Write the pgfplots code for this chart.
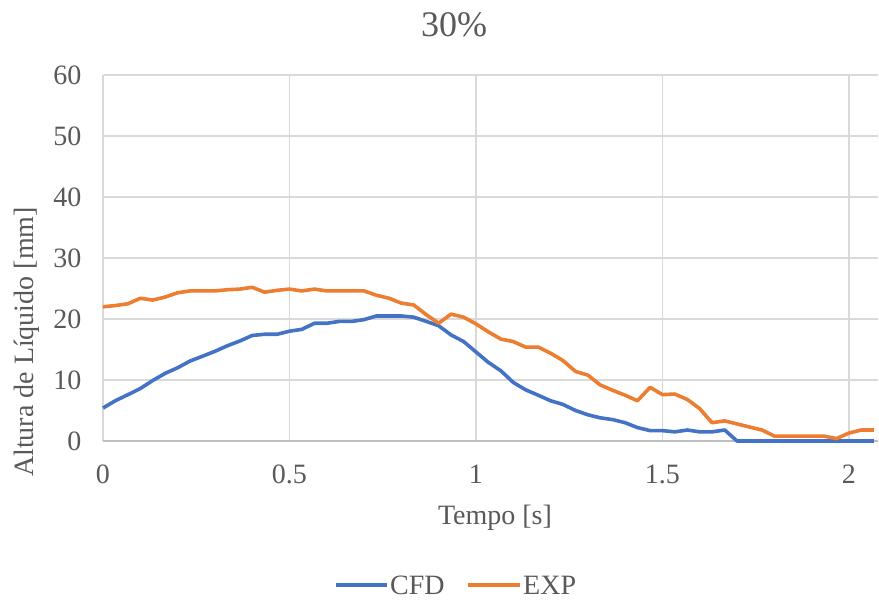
\documentclass[border=0pt]{standalone}
\usepackage{pgfplots}
\pgfplotsset{compat=1.18}
\usepackage{fontspec}
\setmainfont{Liberation Serif}
\definecolor{cfd}{HTML}{4472C4}
\definecolor{exp}{HTML}{ED7D31}
\definecolor{txt}{HTML}{595959}
\definecolor{grd}{HTML}{D9D9D9}
\definecolor{axl}{HTML}{BFBFBF}
\begin{document}
\begin{tikzpicture}[x=1pt,y=1pt]
\useasboundingbox (0,0) rectangle (879,600);
\begin{axis}[
  at={(103pt,159pt)}, anchor=south west,
  scale only axis, width=775pt, height=366pt,
  xmin=0, xmax=2.078, ymin=0, ymax=60,
  xtick={0,0.5,1,1.5,2}, ytick={0,10,...,60},
  xticklabels={0,0.5,1,1.5,2},
  grid=major, major grid style={color=grd, line width=1.3pt},
  major tick length=0pt,
  axis x line*=bottom, axis y line*=left,
  x axis line style={-, color=axl, line width=1.5pt},
  y axis line style={draw=none},
  /pgf/number format/assume math mode=true,
  tick label style={font=\fontsize{28}{32}\selectfont, color=txt},
  xticklabel style={yshift=-20pt},
  yticklabel style={xshift=-18pt},
  clip=false,
]
\addplot[cfd, line width=3.6pt, line join=round] coordinates {
(0,5.4) (0.033,6.6) (0.067,7.6) (0.1,8.6) (0.133,9.9) (0.167,11.1)
(0.2,12.0) (0.233,13.1) (0.267,13.9) (0.3,14.7) (0.333,15.6) (0.367,16.4)
(0.4,17.3) (0.433,17.5) (0.467,17.5) (0.5,18.0) (0.533,18.3) (0.567,19.3)
(0.6,19.3) (0.633,19.6) (0.667,19.6) (0.7,19.9) (0.733,20.5) (0.767,20.5)
(0.8,20.5) (0.833,20.3) (0.867,19.6) (0.9,18.9) (0.933,17.4) (0.967,16.3)
(1.0,14.6) (1.033,12.9) (1.067,11.5) (1.1,9.6) (1.133,8.4) (1.167,7.5)
(1.2,6.6) (1.233,6.0) (1.267,5.0) (1.3,4.3) (1.333,3.8) (1.367,3.5)
(1.4,3.0) (1.433,2.2) (1.467,1.7) (1.5,1.7) (1.533,1.5) (1.567,1.8)
(1.6,1.5) (1.633,1.5) (1.667,1.8) (1.7,0) (1.733,0) (1.767,0) (1.8,0)
(1.833,0) (1.867,0) (1.9,0) (1.933,0) (1.967,0) (2.0,0) (2.033,0) (2.067,0)
};
\addplot[exp, line width=3.6pt, line join=round] coordinates {
(0,22.0) (0.033,22.2) (0.067,22.5) (0.1,23.4) (0.133,23.1) (0.167,23.6)
(0.2,24.3) (0.233,24.6) (0.267,24.6) (0.3,24.6) (0.333,24.8) (0.367,24.9)
(0.4,25.2) (0.433,24.4) (0.467,24.7) (0.5,24.9) (0.533,24.6) (0.567,24.9)
(0.6,24.6) (0.633,24.6) (0.667,24.6) (0.7,24.6) (0.733,23.9) (0.767,23.4)
(0.8,22.6) (0.833,22.3) (0.867,20.7) (0.9,19.3) (0.933,20.8) (0.967,20.3)
(1.0,19.2) (1.033,17.9) (1.067,16.7) (1.1,16.3) (1.133,15.4) (1.167,15.4)
(1.2,14.4) (1.233,13.2) (1.267,11.4) (1.3,10.8) (1.333,9.2) (1.367,8.3)
(1.4,7.5) (1.433,6.6) (1.467,8.8) (1.5,7.6) (1.533,7.7) (1.567,6.8)
(1.6,5.3) (1.633,3.0) (1.667,3.3) (1.7,2.8) (1.733,2.3) (1.767,1.8)
(1.8,0.8) (1.833,0.8) (1.867,0.8) (1.9,0.8) (1.933,0.8) (1.967,0.4)
(2.0,1.3) (2.033,1.8) (2.067,1.8)
};
\end{axis}
% title, axis titles and legend
\node[font=\fontsize{36}{40}\selectfont, color=txt] at (454,575) {30\%};
\node[font=\fontsize{28}{32}\selectfont, color=txt] at (495,82) {Tempo [s]};
\node[font=\fontsize{28}{32}\selectfont, color=txt, rotate=90] at (27,258) {Altura de Líquido [mm]};
\draw[cfd, line width=3.6pt] (336,15) -- (387,15);
\node[font=\fontsize{28}{32}\selectfont, color=txt, anchor=west, inner sep=0pt] at (390,15) {CFD};
\draw[exp, line width=3.6pt] (468,15) -- (520,15);
\node[font=\fontsize{28}{32}\selectfont, color=txt, anchor=west, inner sep=0pt] at (523,15) {EXP};
\end{tikzpicture}
\end{document}
